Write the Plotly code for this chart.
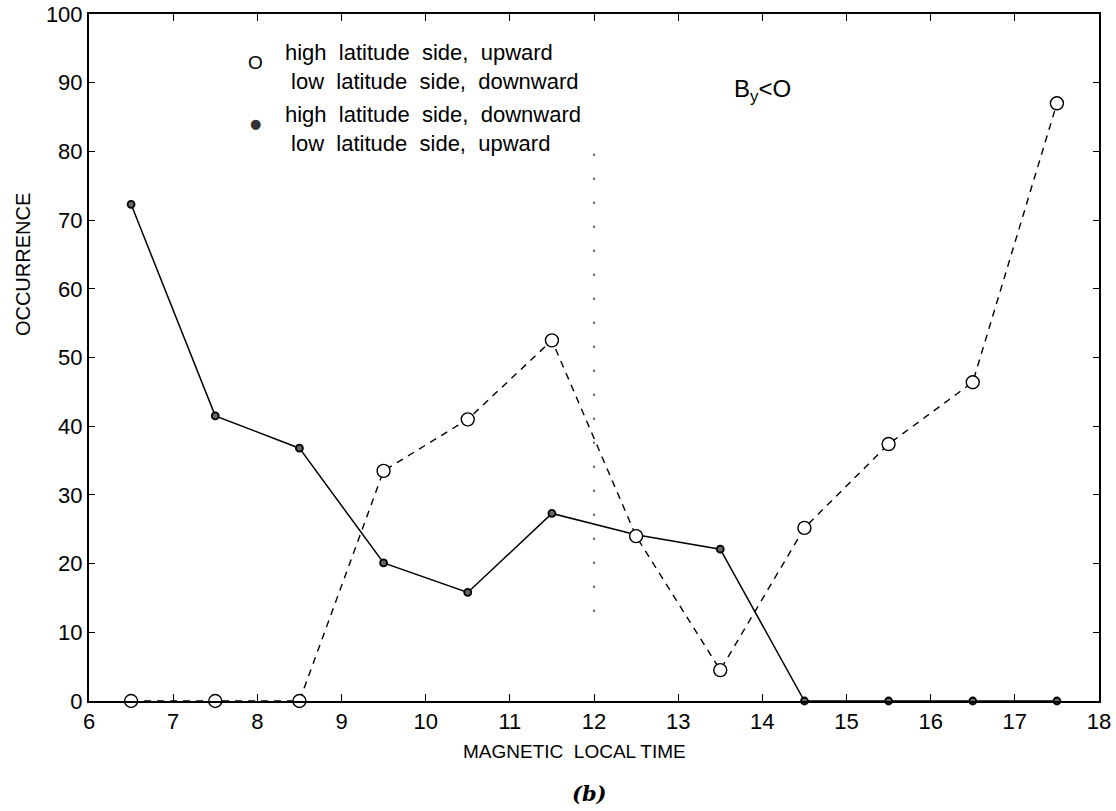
import plotly.graph_objects as go

# ---- data ----
mlt = [6.5, 7.5, 8.5, 9.5, 10.5, 11.5, 12.5, 13.5, 14.5, 15.5, 16.5, 17.5]
open_hl_up = [0, 0, 0, 33.5, 41, 52.5, 24, 4.5, 25.2, 37.4, 46.4, 87]
filled_hl_down = [72.3, 41.5, 36.8, 20.1, 15.8, 27.3, 24.2, 22.1, 0, 0, 0, 0]
x_ticks = list(range(6, 19))
y_ticks = list(range(0, 101, 10))
noon_x = 12
noon_span = [13, 80]

FONT = "Liberation Sans"

fig = go.Figure()

fig.add_trace(go.Scatter(
    x=mlt, y=filled_hl_down, mode="lines+markers",
    line=dict(color="black", width=1.5),
    marker=dict(symbol="circle", size=7, color="#666666",
                line=dict(color="black", width=1.8)),
    showlegend=False, cliponaxis=False))

fig.add_trace(go.Scatter(
    x=mlt, y=open_hl_up, mode="lines+markers",
    line=dict(color="black", width=1.4, dash="7px,6px"),
    marker=dict(symbol="circle", size=13, color="white",
                line=dict(color="black", width=1.4)),
    showlegend=False, cliponaxis=False))

fig.add_shape(type="line", xref="x", yref="y",
              x0=noon_x, x1=noon_x, y0=noon_span[0], y1=noon_span[1],
              line=dict(color="black", width=1.3, dash="2px,22px"))

anns = []
# legend symbols and text
anns.append(dict(x=7.98, y=92.9, text="O", showarrow=False,
                 font=dict(size=19, color="black", family=FONT)))
anns.append(dict(x=7.98, y=84.0, text="●", showarrow=False,
                 font=dict(size=13, color="#333", family="DejaVu Sans")))
anns.append(dict(x=8.30, y=92.3, xanchor="left", align="left",
                 text="high  latitude  side,  upward<br> low  latitude  side,  downward",
                 showarrow=False, font=dict(size=22, color="black", family=FONT)))
anns.append(dict(x=8.30, y=83.2, xanchor="left", align="left",
                 text="high  latitude  side,  downward<br> low  latitude  side,  upward",
                 showarrow=False, font=dict(size=22, color="black", family=FONT)))
anns.append(dict(x=14.0, y=88.8, text="B<sub>y</sub>&lt;O", showarrow=False,
                 xanchor="center", yanchor="middle",
                 font=dict(size=24, color="black", family=FONT)))
# axis titles
anns.append(dict(xref="paper", x=-0.066, y=63.5, text="OCCURRENCE", textangle=-90,
                 xanchor="center", yanchor="middle",
                 showarrow=False, font=dict(size=20, color="black", family=FONT)))
anns.append(dict(x=11.77, yref="paper", y=-0.074, text="MAGNETIC  LOCAL TIME",
                 xanchor="center", yanchor="middle",
                 showarrow=False, font=dict(size=19, color="black", family=FONT)))
anns.append(dict(x=11.95, yref="paper", y=-0.134, text="<b><i>(b)</i></b>",
                 xanchor="center", yanchor="middle",
                 showarrow=False, font=dict(size=21, color="black", family="DejaVu Serif")))

fig.update_layout(
    width=1116, height=811,
    margin=dict(l=89, r=17, t=14, b=110, autoexpand=False),
    paper_bgcolor="white", plot_bgcolor="white",
    annotations=anns,
    font=dict(family=FONT, color="black"),
)
fig.update_xaxes(range=[6, 18], tickvals=x_ticks, ticks="inside", ticklen=7,
                 tickwidth=1.3, tickcolor="black", showline=True, linecolor="black",
                 linewidth=2, mirror="ticks", showgrid=False, zeroline=False,
                 automargin=False, ticklabeloverflow="allow",
                 tickfont=dict(size=22, family=FONT, color="black"))
fig.update_yaxes(range=[0, 100], tickvals=y_ticks, ticks="inside", ticklen=6,
                 tickwidth=1.3, tickcolor="black", showline=True, linecolor="black",
                 linewidth=2, mirror="ticks", showgrid=False, zeroline=False,
                 automargin=False, ticklabeloverflow="allow",
                 tickfont=dict(size=22, family=FONT, color="black"))

# remove the default page margin so the figure fills the window exactly
fig.write_html("out.html", config={"displayModeBar": False},
               post_script="document.body.style.margin='0px';document.body.style.overflow='hidden';")
